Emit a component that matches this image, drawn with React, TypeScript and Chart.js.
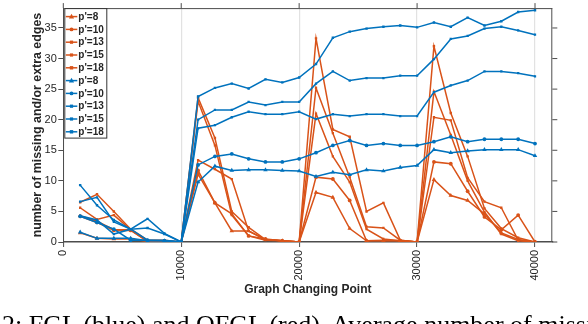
import React, { useEffect, useRef } from "react";
import { Chart, registerables } from "chart.js";

Chart.register(...registerables);

// Graph changing points (x values)
const changePoints = [
  1429, 2857, 4286, 5714, 7143, 8571, 10000,
  11429, 12857, 14286, 15714, 17143, 18571, 20000,
  21429, 22857, 24286, 25714, 27143, 28571, 30000,
  31429, 32857, 34286, 35714, 37143, 38571, 40000,
];
const xTicks = [0, 10000, 20000, 30000, 40000];
const yTicks = [0, 5, 10, 15, 20, 25, 30, 35];
const pLabels = ["p'=8", "p'=10", "p'=13", "p'=15", "p'=18"];

// OFGL (red)
const ofgl8 = [1.5, 0.6, 0.5, 0.5, 0.1, 0, 0, 11.1, 6.4, 1.8, 1.8, 0.4, 0.2, 0, 8.1, 7.3, 2.2, 0.2, 0.3, 0.2, 0, 10.2, 7.6, 6.8, 4.6, 1.5, 0.4, 0];
const ofgl10 = [4.2, 3.2, 1.9, 1.9, 0.1, 0, 0, 11.7, 6.4, 4.6, 1.0, 0.5, 0.2, 0, 10.6, 10.3, 6.8, 0.2, 0.2, 0.2, 0, 13.1, 12.8, 8.3, 4.1, 2.0, 4.4, 0];
const ofgl13 = [4.3, 3.4, 2.0, 2.0, 0.1, 0.1, 0, 13.4, 11.9, 10.3, 1.8, 0.4, 0.2, 0, 21.0, 14.0, 9.8, 2.1, 0.5, 0.2, 0, 20.4, 19.9, 10.5, 6.6, 5.6, 0.3, 0];
const ofgl15 = [5.6, 3.7, 4.4, 2.0, 0.2, 0.1, 0, 23.0, 15.8, 4.4, 1.0, 0.3, 0.2, 0, 25.2, 17.8, 10.6, 2.5, 2.3, 0.3, 0, 24.6, 17.5, 10.0, 4.9, 1.3, 0.2, 0];
const ofgl18 = [6.5, 7.8, 5.0, 2.1, 0.3, 0.3, 0, 23.6, 17.0, 5.0, 2.4, 0.4, 0.2, 0, 33.3, 18.4, 17.2, 5.0, 6.4, 0.3, 0, 32.0, 21.1, 14.0, 5.5, 2.2, 0.7, 0];

// FGL (blue)
const fgl8 = [1.6, 0.6, 0.6, 0.6, 0.2, 0.2, 0, 9.8, 12.4, 11.7, 11.8, 11.8, 11.7, 11.6, 10.7, 11.4, 11.0, 11.8, 11.6, 12.2, 12.5, 15.1, 14.6, 14.9, 15.1, 15.1, 15.1, 14.1];
const fgl10 = [4.2, 3.2, 2.1, 0.3, 0.3, 0.2, 0, 12.6, 14.0, 14.4, 13.6, 13.1, 13.1, 13.6, 14.6, 15.8, 16.6, 15.8, 16.1, 15.8, 15.8, 16.4, 17.2, 16.4, 16.8, 16.8, 16.8, 16.1];
const fgl13 = [4.3, 3.6, 1.3, 2.1, 0.3, 0.3, 0, 18.6, 19.1, 20.4, 21.3, 20.9, 20.9, 21.3, 20.1, 20.9, 20.6, 20.9, 20.9, 20.6, 20.6, 24.5, 25.6, 26.4, 27.9, 27.9, 27.6, 27.1];
const fgl15 = [6.6, 7.3, 3.3, 2.1, 3.8, 1.4, 0, 20.0, 21.6, 21.6, 22.9, 22.4, 22.9, 22.9, 25.9, 27.9, 26.4, 26.8, 26.8, 27.2, 27.2, 29.9, 33.2, 33.7, 34.9, 35.2, 34.6, 33.9];
const fgl18 = [9.3, 6.0, 3.6, 2.1, 2.3, 1.3, 0, 23.8, 25.2, 25.9, 25.1, 26.6, 26.1, 26.9, 29.1, 33.4, 34.4, 34.9, 35.2, 35.4, 35.1, 35.9, 35.2, 36.7, 35.4, 36.1, 37.6, 37.9];

const ORANGE = "#D95319";
const BLUE = "#0072BD";
const AXIS = "#4d4d4d";
const TEXT = "#262626";
const FONT = "'Liberation Sans', Arial, Helvetica, sans-serif";

const markerStyles = ["triangle", "circle", "rect", "rect", "rect"];
const markerRadius = [2.6, 1.9, 1.6, 1.6, 1.7];

const W = 588;
const H = 324;

function drawMarker(ctx: CanvasRenderingContext2D, style: string, x: number, y: number, r: number, color: string) {
  ctx.fillStyle = color;
  ctx.beginPath();
  if (style === "triangle") {
    ctx.moveTo(x, y - r * 1.1);
    ctx.lineTo(x + r, y + r * 0.7);
    ctx.lineTo(x - r, y + r * 0.7);
    ctx.closePath();
  } else if (style === "circle") {
    ctx.arc(x, y, r, 0, Math.PI * 2);
  } else {
    ctx.rect(x - r, y - r, r * 2, r * 2);
  }
  ctx.fill();
}

export default function App() {
  const ref = useRef<HTMLCanvasElement | null>(null);

  useEffect(() => {
    if (!ref.current) return;
    const toPts = (vals: number[]) => vals.map((v, i) => ({ x: changePoints[i], y: v }));
    const orangeSeries = [ofgl8, ofgl10, ofgl13, ofgl15, ofgl18];
    const blueSeries = [fgl8, fgl10, fgl13, fgl15, fgl18];
    const mk = (vals: number[], i: number, color: string, order: number) => ({
      label: pLabels[i],
      data: toPts(vals),
      borderColor: color,
      backgroundColor: color,
      borderWidth: 1.5,
      pointStyle: markerStyles[i],
      pointRadius: markerRadius[i],
      pointBorderWidth: 0,
      pointBackgroundColor: color,
      tension: 0,
      order,
    });
    const datasets = [
      ...orangeSeries.map((v, i) => mk(v, i, ORANGE, 1)),
      ...blueSeries.map((v, i) => mk(v, i, BLUE, 0)),
    ];

    const framePlugin = {
      id: "frame",
      afterDatasetsDraw(chart: any) {
        const { ctx, chartArea: a, scales } = chart;
        ctx.save();
        ctx.strokeStyle = AXIS;
        ctx.lineWidth = 1;
        ctx.beginPath();
        ctx.moveTo(a.left, a.top + 0.5);
        ctx.lineTo(a.right, a.top + 0.5);
        ctx.moveTo(a.right - 0.5, a.top);
        ctx.lineTo(a.right - 0.5, a.bottom);
        for (const v of xTicks) {
          const x = scales.x.getPixelForValue(v);
          ctx.moveTo(x, a.top);
          ctx.lineTo(x, a.top - 5);
        }
        for (const v of yTicks) {
          const y = scales.y.getPixelForValue(v);
          ctx.moveTo(a.right, y);
          ctx.lineTo(a.right + 5, y);
        }
        ctx.stroke();
        ctx.restore();
      },
      afterDraw(chart: any) {
        const { ctx, chartArea: a } = chart;
        const L = a.left + 1;
        const T = a.top + 0.5;
        const BW = 42;
        const BH = 129.5;
        ctx.save();
        ctx.fillStyle = "#ffffff";
        ctx.fillRect(L, T, BW, BH);
        ctx.strokeStyle = "#333333";
        ctx.lineWidth = 1;
        ctx.strokeRect(L + 0.5, T, BW, BH);
        const entries = [
          ...pLabels.map((l, i) => ({ l, i, c: ORANGE })),
          ...pLabels.map((l, i) => ({ l, i, c: BLUE })),
        ];
        ctx.font = `bold 10px ${FONT}`;
        ctx.textBaseline = "middle";
        ctx.textAlign = "left";
        entries.forEach((e, k) => {
          const cy = T + 8 + 12.8 * k;
          ctx.strokeStyle = e.c;
          ctx.lineWidth = 1.5;
          ctx.beginPath();
          ctx.moveTo(L + 1.5, cy);
          ctx.lineTo(L + 13, cy);
          ctx.stroke();
          drawMarker(ctx, markerStyles[e.i], L + 7.2, cy, markerRadius[e.i], e.c);
          ctx.fillStyle = TEXT;
          ctx.fillText(e.l, L + 14, cy + 0.5);
        });
        ctx.restore();
      },
    };

    const chart = new Chart(ref.current, {
      type: "line",
      data: { datasets: datasets as any },
      options: {
        animation: false,
        responsive: false,
        devicePixelRatio: 1,
        layout: { padding: { left: 0, right: 35.7, top: 6, bottom: 0 } },
        plugins: {
          legend: { display: false },
          tooltip: { enabled: false },
        },
        scales: {
          x: {
            type: "linear",
            min: 0,
            max: 41466,
            afterBuildTicks: (s: any) => {
              s.ticks = xTicks.map((v) => ({ value: v }));
            },
            afterFit: (s: any) => {
              s.height = H - 242;
            },
            ticks: {
              minRotation: 90,
              maxRotation: 90,
              autoSkip: false,
              padding: 3,
              color: TEXT,
              font: { size: 11, family: FONT },
              callback: (v: any) => String(v),
            },
            grid: {
              color: "#e2e2e2",
              lineWidth: 1.2,
              drawTicks: true,
              tickLength: 5,
              tickColor: AXIS,
              tickWidth: 1,
            },
            border: { color: AXIS, width: 1.5 },
            title: {
              display: true,
              text: "Graph Changing Point",
              color: TEXT,
              font: { size: 12, weight: "bold", family: FONT },
              padding: { top: 0, bottom: 26.8 },
            },
          },
          y: {
            type: "linear",
            min: 0,
            max: 38.25,
            afterBuildTicks: (s: any) => {
              s.ticks = yTicks.map((v) => ({ value: v }));
            },
            afterFit: (s: any) => {
              s.width = 63.3;
            },
            ticks: {
              padding: 1.5,
              color: TEXT,
              font: { size: 11, family: FONT },
            },
            grid: {
              drawOnChartArea: false,
              drawTicks: true,
              tickLength: 5,
              tickColor: AXIS,
              tickWidth: 1,
            },
            border: { color: AXIS, width: 1 },
            title: {
              display: true,
              text: "number of missing and/or extra edges",
              color: TEXT,
              font: { size: 12.4, weight: "bold", family: FONT },
              padding: { top: 30.6, bottom: 0 },
            },
          },
        },
      },
      plugins: [framePlugin],
    });
    return () => chart.destroy();
  }, []);

  return (
    <div
      style={{
        position: "absolute",
        left: 0,
        top: 0,
        width: W,
        height: H,
        overflow: "hidden",
        background: "#ffffff",
      }}
    >
      <canvas ref={ref} width={W} height={H} style={{ display: "block", width: W, height: H }} />
      <div
        style={{
          position: "absolute",
          left: 2,
          top: 312,
          fontFamily: "'Liberation Serif', 'Times New Roman', serif",
          fontSize: 26,
          lineHeight: "26px",
          whiteSpace: "nowrap",
          color: "#000",
        }}
      >
        2: FGL (blue) and OFGL (red). Average number of missing and/or extra edges
      </div>
    </div>
  );
}
